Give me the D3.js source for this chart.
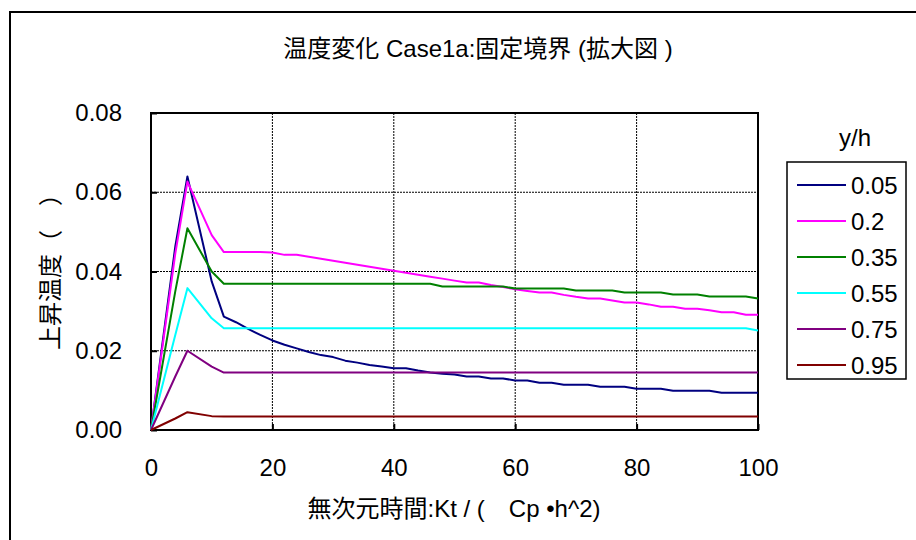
<!DOCTYPE html>
<html lang="ja">
<head>
    <meta charset="UTF-8">
    <title>温度変化 Case1a</title>
    <script src="https://cdn.jsdelivr.net/npm/d3@7/dist/d3.min.js"></script>
    <style>
        body { margin: 0; background: #fff; }
        text { font-family: "Liberation Sans", Arial, "Noto Sans CJK JP", sans-serif; fill: #000; font-size: 24px; }
        .grid line { stroke: #000; stroke-dasharray: 2,1; stroke-width: 1; }
        .series { fill: none; stroke-width: 2; stroke-linejoin: round; }
    </style>
</head>
<body>
<script>
    // 無次元時間 (x values)
    var times = [0, 4, 6, 10, 12, 14, 16, 18, 20, 22, 24, 26, 28, 30, 32, 34, 36, 38, 40,
        42, 44, 46, 48, 50, 52, 54, 56, 58, 60, 62, 64, 66, 68, 70, 72, 74, 76, 78, 80,
        82, 84, 86, 88, 90, 92, 94, 96, 98, 100];

    var labels = ["0.05", "0.2", "0.35", "0.55", "0.75", "0.95"];
    var colors = ["#000080", "#ff00ff", "#008000", "#00ffff", "#800080", "#800000"];

    var s005 = [0, 0.0463, 0.064, 0.0375, 0.0286, 0.0272, 0.0255, 0.0240, 0.0226, 0.0215,
        0.0206, 0.0197, 0.0189, 0.0184, 0.0175, 0.0170, 0.0164, 0.0160, 0.0156, 0.0156,
        0.0150, 0.0145, 0.0142, 0.0140, 0.0135, 0.0135, 0.0130, 0.0130, 0.0125, 0.0125,
        0.0119, 0.0119, 0.0114, 0.0114, 0.0114, 0.0109, 0.0109, 0.0109, 0.0104, 0.0104,
        0.0104, 0.0099, 0.0099, 0.0099, 0.0099, 0.0094, 0.0094, 0.0094, 0.0094];
    var s020 = [0, 0.0445, 0.0627, 0.0492, 0.0449, 0.0449, 0.0449, 0.0449, 0.0448, 0.0442,
        0.0442, 0.0437, 0.0432, 0.0427, 0.0422, 0.0417, 0.0412, 0.0407, 0.0402, 0.0397,
        0.0392, 0.0387, 0.0382, 0.0377, 0.0372, 0.0372, 0.0366, 0.0361, 0.0355, 0.0351,
        0.0347, 0.0347, 0.0341, 0.0336, 0.0332, 0.0332, 0.0327, 0.0322, 0.0322, 0.0317,
        0.0311, 0.0311, 0.0306, 0.0306, 0.0302, 0.0297, 0.0297, 0.0291, 0.0291];
    var s035 = [0, 0.0350, 0.0509, 0.0400, 0.0369, 0.0369, 0.0369, 0.0369, 0.0369, 0.0369,
        0.0369, 0.0369, 0.0369, 0.0369, 0.0369, 0.0369, 0.0369, 0.0369, 0.0369, 0.0369,
        0.0369, 0.0369, 0.0362, 0.0362, 0.0362, 0.0362, 0.0362, 0.0362, 0.0357, 0.0357,
        0.0357, 0.0357, 0.0357, 0.0352, 0.0352, 0.0352, 0.0352, 0.0347, 0.0347, 0.0347,
        0.0347, 0.0342, 0.0342, 0.0342, 0.0337, 0.0337, 0.0337, 0.0337, 0.0332];
    var s055 = [0, 0.0240, 0.0358, 0.0282, 0.0257, 0.0257, 0.0257, 0.0257, 0.0257, 0.0257,
        0.0257, 0.0257, 0.0257, 0.0257, 0.0257, 0.0257, 0.0257, 0.0257, 0.0257, 0.0257,
        0.0257, 0.0257, 0.0257, 0.0257, 0.0257, 0.0257, 0.0257, 0.0257, 0.0257, 0.0257,
        0.0257, 0.0257, 0.0257, 0.0257, 0.0257, 0.0257, 0.0257, 0.0257, 0.0257, 0.0257,
        0.0257, 0.0257, 0.0257, 0.0257, 0.0257, 0.0257, 0.0257, 0.0257, 0.0251];
    var s075 = [0, 0.0135, 0.0200, 0.0160, 0.0145, 0.0145, 0.0145, 0.0145, 0.0145, 0.0145,
        0.0145, 0.0145, 0.0145, 0.0145, 0.0145, 0.0145, 0.0145, 0.0145, 0.0145, 0.0145,
        0.0145, 0.0145, 0.0145, 0.0145, 0.0145, 0.0145, 0.0145, 0.0145, 0.0145, 0.0145,
        0.0145, 0.0145, 0.0145, 0.0145, 0.0145, 0.0145, 0.0145, 0.0145, 0.0145, 0.0145,
        0.0145, 0.0145, 0.0145, 0.0145, 0.0145, 0.0145, 0.0145, 0.0145, 0.0145];
    var s095 = [0, 0.0029, 0.0045, 0.0035, 0.0034, 0.0034, 0.0034, 0.0034, 0.0034, 0.0034,
        0.0034, 0.0034, 0.0034, 0.0034, 0.0034, 0.0034, 0.0034, 0.0034, 0.0034, 0.0034,
        0.0034, 0.0034, 0.0034, 0.0034, 0.0034, 0.0034, 0.0034, 0.0034, 0.0034, 0.0034,
        0.0034, 0.0034, 0.0034, 0.0034, 0.0034, 0.0034, 0.0034, 0.0034, 0.0034, 0.0034,
        0.0034, 0.0034, 0.0034, 0.0034, 0.0034, 0.0034, 0.0034, 0.0034, 0.0034];

    var xTicks = [0, 20, 40, 60, 80, 100];
    var yTicks = [0, 0.02, 0.04, 0.06, 0.08];

    var allSeries = [s005, s020, s035, s055, s075, s095];

    var width = 916, height = 540;
    var plot = { left: 151, right: 758, top: 113, bottom: 430 };

    var x = d3.scaleLinear().domain([0, 100]).range([plot.left, plot.right]);
    var y = d3.scaleLinear().domain([0, 0.08]).range([plot.bottom, plot.top]);

    var svg = d3.select("body").append("svg")
        .attr("width", width)
        .attr("height", height);

    // outer chart frame (runs off the right and bottom)
    svg.append("rect")
        .attr("x", 10).attr("y", 12)
        .attr("width", width).attr("height", height)
        .attr("fill", "none").attr("stroke", "#000").attr("stroke-width", 2);

    svg.append("text")
        .attr("x", 478).attr("y", 57)
        .attr("text-anchor", "middle")
        .text("温度変化 Case1a:固定境界 (拡大図 )");

    // gridlines
    svg.append("g").attr("class", "grid")
        .selectAll("line")
        .data(yTicks.filter(d => d > 0 && d < 0.08))
        .join("line")
        .attr("x1", plot.left).attr("x2", plot.right)
        .attr("y1", d => y(d)).attr("y2", d => y(d));

    svg.append("g").attr("class", "grid")
        .selectAll("line")
        .data(xTicks.filter(d => d > 0 && d < 100))
        .join("line")
        .attr("y1", plot.top).attr("y2", plot.bottom)
        .attr("x1", d => x(d)).attr("x2", d => x(d));

    // axes, ticks point inward
    var xAxis = d3.axisBottom(x).tickValues(xTicks).tickSizeInner(-6).tickSizeOuter(0).tickPadding(29);
    var yAxis = d3.axisLeft(y).tickValues(yTicks).tickSizeInner(-6).tickSizeOuter(0)
        .tickPadding(29).tickFormat(d3.format(".2f"));

    var gx = svg.append("g")
        .attr("transform", "translate(0," + plot.bottom + ")")
        .call(xAxis);
    var gy = svg.append("g")
        .attr("transform", "translate(" + plot.left + ",0)")
        .call(yAxis);

    [gx, gy].forEach(function (g) {
        g.select(".domain").remove();
        g.selectAll(".tick line").attr("stroke", "#000").attr("stroke-width", 2);
        g.selectAll(".tick text").style("font-size", "24px").attr("fill", "#000");
    });

    // plot frame
    svg.append("rect")
        .attr("x", plot.left).attr("y", plot.top)
        .attr("width", plot.right - plot.left).attr("height", plot.bottom - plot.top)
        .attr("fill", "none").attr("stroke", "#000").attr("stroke-width", 2);

    var line = d3.line()
        .x((d, i) => x(times[i]))
        .y(d => y(d));

    svg.selectAll(".series")
        .data(allSeries)
        .join("path")
        .attr("class", "series")
        .attr("stroke", (d, i) => colors[i])
        .attr("d", line);

    // axis titles
    svg.append("text")
        .attr("transform", "translate(59,266) rotate(-90)")
        .attr("text-anchor", "middle")
        .text("上昇温度（　）");

    svg.append("text")
        .attr("x", 454).attr("y", 517)
        .attr("text-anchor", "middle")
        .text("無次元時間:Kt / (　Cp •h^2)");

    // legend
    svg.append("text")
        .attr("x", 855).attr("y", 146)
        .attr("text-anchor", "middle")
        .text("y/h");

    svg.append("rect")
        .attr("x", 787).attr("y", 162)
        .attr("width", 119).attr("height", 217)
        .attr("fill", "#fff").attr("stroke", "#000").attr("stroke-width", 1.5);

    var item = svg.append("g").selectAll("g")
        .data(labels)
        .join("g")
        .attr("transform", (d, i) => "translate(0," + (185 + i * 36) + ")");

    item.append("line")
        .attr("x1", 797).attr("x2", 846)
        .attr("stroke", (d, i) => colors[i])
        .attr("stroke-width", 2);

    item.append("text")
        .attr("x", 851).attr("dy", "0.36em")
        .text(d => d);
</script>
</body>
</html>
